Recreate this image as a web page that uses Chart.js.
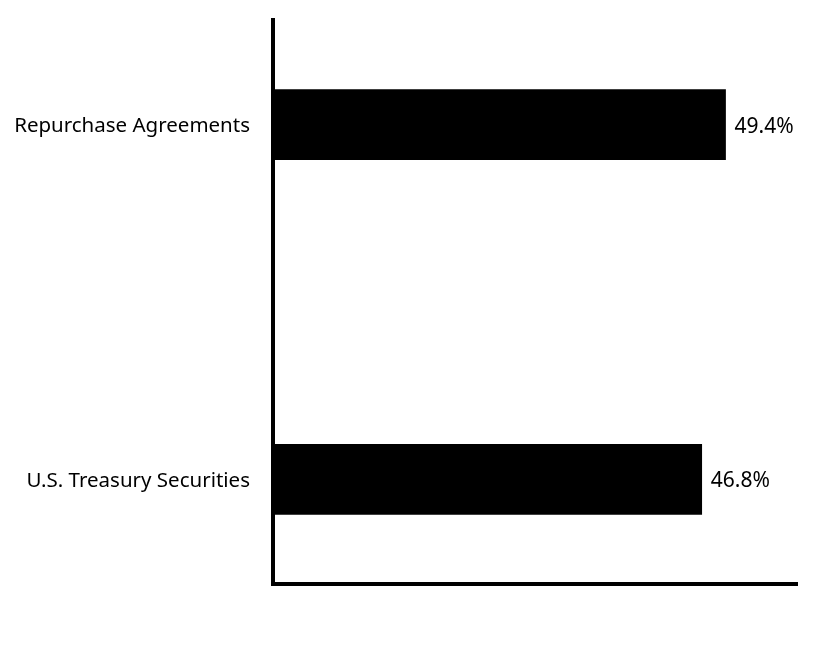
<!DOCTYPE html>
<html>
<head>
<meta charset="utf-8">
<script src="https://cdn.jsdelivr.net/npm/chart.js@4.4.1/dist/chart.umd.min.js"></script>
<style>
    html, body { margin: 0; padding: 0; background: #fff; }
</style>
</head>
<body>
<canvas id="myChart" width="828" height="648"></canvas>
<script>
// Data
var categories = ['Repurchase Agreements', 'U.S. Treasury Securities'];
var positions = [0, 1];
var percentages = [49.4, 46.8];
var valueLabels = ['49.4%', '46.8%'];

var fontFamily = '"Noto Sans", sans-serif';

// Draw the value text just past the end of each bar
var barValuePlugin = {
    id: 'barValues',
    afterDatasetsDraw: function (chart) {
        var ctx = chart.ctx;
        var meta = chart.getDatasetMeta(0);
        ctx.save();
        ctx.fillStyle = '#000';
        ctx.font = '21px ' + fontFamily;
        ctx.textAlign = 'left';
        ctx.textBaseline = 'middle';
        meta.data.forEach(function (bar, i) {
            ctx.fillText(valueLabels[i], bar.x + 9, bar.y + 2);
        });
        ctx.restore();
    }
};

var points = positions.map(function (p, i) {
    return { x: percentages[i], y: p };
});

var ctx = document.getElementById('myChart').getContext('2d');
var myChart = new Chart(ctx, {
    type: 'bar',
    data: {
        datasets: [{
            data: points,
            backgroundColor: '#000',
            borderWidth: 0,
            barThickness: 70
        }]
    },
    options: {
        indexAxis: 'y',
        responsive: false,
        animation: false,
        layout: { padding: { top: 20, right: 31, bottom: 64, left: 0 } },
        plugins: {
            legend: { display: false },
            tooltip: { enabled: false }
        },
        scales: {
            x: {
                type: 'linear',
                min: 0,
                max: 57.2,
                grid: { display: false },
                ticks: { display: false },
                border: { display: true, color: '#000', width: 4 },
                afterFit: function (scale) { scale.height = 0; }
            },
            y: {
                type: 'linear',
                reverse: true,
                offset: false,
                min: -0.295,
                max: 1.295,
                grid: { display: false, offset: false },
                border: { display: true, color: '#000', width: 4 },
                afterBuildTicks: function (scale) {
                    scale.ticks = positions.map(function (v) { return { value: v }; });
                },
                ticks: {
                    color: '#000',
                    padding: 15,
                    labelOffset: 2,
                    font: { family: fontFamily, size: 20.5 },
                    callback: function (value) { return categories[value]; }
                },
                afterFit: function (scale) {
                    scale.width = 273;
                    scale.paddingTop = 0;
                    scale.paddingBottom = 0;
                }
            }
        }
    },
    plugins: [barValuePlugin]
});
</script>
</body>
</html>
